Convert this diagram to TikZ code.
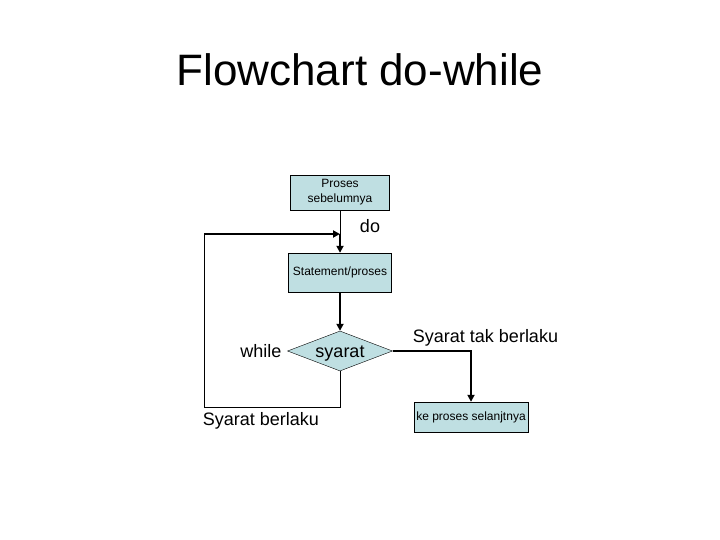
\documentclass[tikz,border=0pt]{standalone}
\usepackage{fontspec}
\setmainfont{Liberation Sans}
\usetikzlibrary{shapes.geometric,arrows.meta}
\definecolor{birumuda}{RGB}{191,223,226}
\tikzset{
  kotak/.style={draw, fill=birumuda, inner sep=2pt, align=center, font=\fontsize{12}{15}\selectfont},
  teks18/.style={font=\fontsize{18}{20}\selectfont},
  garis/.style={line width=1pt},
  garistebal/.style={line width=2pt, -{Triangle[length=7pt,width=7pt]}}
}
\begin{document}
\begin{tikzpicture}[x=1pt, y=-1pt, line join=miter]
  \useasboundingbox (0,0) rectangle (720,540);
  % judul
  \node[anchor=base, font=\fontsize{44}{50}\selectfont] (judul) at (360,86) {Flowchart do-while};

  % kotak dan belah ketupat
  \node[kotak, minimum width=99pt, minimum height=35pt] (prev) at (340,192.5) {Proses\\sebelumnya};
  \node[kotak, minimum width=103pt, minimum height=39pt] (stmt) at (340,272.5) {Statement/proses};
  \node[draw, fill=birumuda, diamond, aspect=2.6, inner sep=0pt, text height=13pt, text depth=0pt,
        minimum width=105pt, minimum height=40pt, teks18] (cond) at (340,351) {syarat};
  \node[kotak, minimum width=114pt, minimum height=30pt, inner sep=1pt] (next) at (471,417) {ke proses selanjtnya};

  % label
  \node[anchor=base, teks18] (ldo) at (370,233) {do};
  \node[anchor=base, teks18] (lwhile) at (261,357) {while};
  \node[anchor=base, teks18] (ltak) at (485.5,342) {Syarat tak berlaku};
  \node[anchor=base, teks18] (lberlaku) at (261,425) {Syarat berlaku};

  % garis penghubung
  \coordinate (cabang) at (340,234);
  \coordinate (kiribawah) at (204,407);
  \coordinate (kiriatas) at (204,234);
  \draw[garis] (prev) -- (cabang);
  \draw[garistebal] (cabang) -- (stmt);
  \draw[garistebal] (stmt) -- (cond);
  % kembali (while)
  \draw[garis] (cond.south) |- (kiribawah) -- (kiriatas);
  \draw[garistebal] (kiriatas) -- (cabang);
  % syarat tak berlaku
  \draw[garistebal] (cond.east) -| (next);
\end{tikzpicture}
\end{document}
